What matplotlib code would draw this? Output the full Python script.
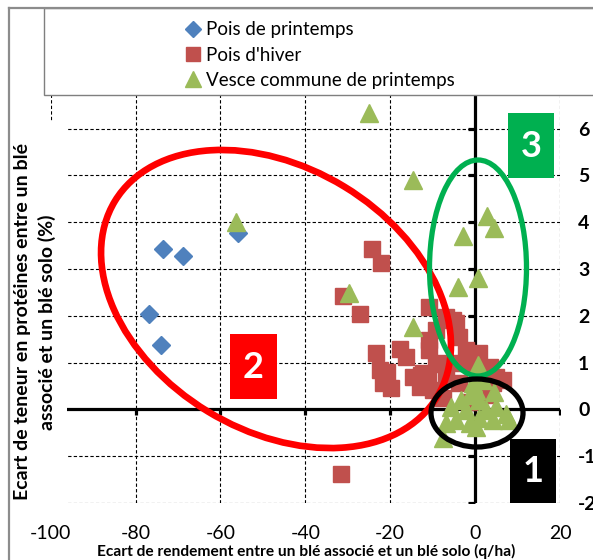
import numpy as np
import matplotlib
matplotlib.use("Agg")
import matplotlib.pyplot as plt
from matplotlib.patches import Ellipse, Rectangle
from matplotlib.lines import Line2D

plt.rcParams["font.family"] = ["Lato", "DejaVu Sans"]
plt.rcParams["axes.unicode_minus"] = False

# Pois de printemps
pp_x = [-73.5, -68.8, -55.8, -76.8, -73.9]
pp_y = [3.43, 3.28, 3.76, 2.03, 1.37]

# Pois d'hiver
ph_x = [-31.7, -24.2, -22.1, -31.2, -27.2, -23.3, -17.8, -16.2, -20.7, -19.8,
        -12.7, -9.2, -6.8, -4.5, -3.7, -2.1, 1.0, 3.4, 4.9, 0.2,
        -10.8, -12.3, -14.7, -22.5, -21.7, -10.0, -6.8, -3.7, -10.8, -9.2,
        4.1, -13.1, 6.5, 3.4, -10.8, -5.3, -8.4, -3.7, -11.2, -7.5, -1.5, 2.5]
ph_y = [-1.38, 3.42, 3.13, 2.42, 2.03, 1.21, 1.30, 1.12, 0.80, 0.45,
        0.73, 1.69, 1.98, 1.84, 1.55, 1.27, 1.20, 0.91, 0.70, 0.98,
        1.27, 0.77, 0.70, 0.84, 0.56, 0.41, 0.70, 0.56, 2.19, 0.98,
        0.56, 0.48, 0.63, 0.41, 1.48, 1.90, 0.99, 0.99, 0.69, 0.25, 0.15, 0.30]

# Vesce commune de printemps
vc_x = [-56.4, -24.9, -14.7, 2.7, 4.5, -2.75, 0.6, -4.1, -14.7, -29.6, 0.6, -7.6,
        -5.6, -3.3, -1.3, 0.2, 1.0, 2.6, 4.5, 4.9, 7.3, 8.1, -1.3, -4.5, 1.0,
        -6.8, -2.1, 1.8, -0.6, 0.2, 4.1]
vc_y = [4.01, 6.34, 4.90, 4.13, 3.88, 3.70, 2.80, 2.62, 1.77, 2.48, 0.95, -0.62,
        0.06, 0.20, 0.31, 0.41, 0.20, -0.01, 0.38, 0.06, -0.09, -0.23, -0.30, -0.23, -0.19,
        -0.30, -0.01, 0.63, 0.56, -0.37, -0.23]

x_ticks = [-100, -80, -60, -40, -20, 0, 20]
y_ticks = [-2, -1, 0, 1, 2, 3, 4, 5, 6]

W, H = 593, 560
fig = plt.figure(figsize=(W / 100, H / 100), dpi=100)
ax = fig.add_axes([50.7 / W, 57 / H, 509.3 / W, 421.3 / H])
ax.set_xlim(-100, 20)
ax.set_ylim(-2, 7)
for s in ax.spines.values():
    s.set_visible(False)

dash = (0, (3, 2))
for xv in x_ticks:
    ax.axvline(xv, color="black", lw=0.8, ls=dash, zorder=1)
for yv in y_ticks:
    ax.axhline(yv, color="black", lw=0.8, ls=dash, zorder=1)

ax.axvline(0, color="black", lw=2.3, zorder=2)
ax.axhline(0, color="black", lw=2.3, zorder=2)
ax.plot(np.zeros(len(y_ticks)), y_ticks, ls="none", marker=0, ms=5, mew=2.3, color="black", zorder=2)
ax.plot(x_ticks, np.zeros(len(x_ticks)), ls="none", marker=3, ms=4, mew=2.3, color="black", zorder=2)

ax.plot(pp_x, pp_y, ls="none", marker="D", ms=8.7, color="#4F81BD", mec="#4F81BD", zorder=3)
ax.plot(ph_x, ph_y, ls="none", marker="s", ms=12, color="#C0504D", mec="#C0504D", zorder=4)
ax.plot(vc_x, vc_y, ls="none", marker="^", ms=12.5, color="#9BBB59", mec="#9BBB59", zorder=5)

ax.set_xticks(x_ticks)
ax.set_yticks(y_ticks)
ax.yaxis.tick_right()
ax.tick_params(axis="both", length=0)
ax.tick_params(axis="x", pad=16, labelsize=14)
ax.tick_params(axis="y", pad=13, labelsize=14)
for t in ax.get_yticklabels():
    t.set_fontweight("bold")

# overlay in pixel coordinates for shapes, boxes and titles
ov = fig.add_axes([0, 0, 1, 1], zorder=10)
ov.set_xlim(0, W)
ov.set_ylim(H, 0)
ov.axis("off")

ov.add_patch(Rectangle((9, 122), 58, 400, facecolor="white", edgecolor="none"))
ov.plot([9, 9], [8, H], color="#8C8C8C", lw=1.6)
ov.plot([9, W], [8, 8], color="#8C8C8C", lw=1.6)
ov.add_patch(Rectangle((44, 8), 560, 87, facecolor="white", edgecolor="#7F7F7F", lw=1.0))

ov.add_patch(Ellipse((276, 299), 377, 263, angle=31.3, fill=False, ec="#FF0000", lw=4.8))
ov.add_patch(Ellipse((478, 268), 97, 216, fill=False, ec="#00B050", lw=3.8))
ov.add_patch(Ellipse((477, 413), 92, 68, fill=False, ec="black", lw=3.8))

boxes = [((230, 334), 47, 65, "#FF0000", "2"),
         ((508, 113), 46, 65, "#00B050", "3"),
         ((510, 439), 46, 64, "black", "1")]
for (bx, by), bw, bh, col, lab in boxes:
    ov.add_patch(Rectangle((bx, by), bw, bh, facecolor=col, edgecolor="none"))
    ov.text(bx + bw / 2, by + bh / 2 + 1, lab, color="white", fontsize=26,
            fontweight="bold", ha="center", va="center")

ov.text(23, 322, "Ecart de teneur en protéines entre un blé", rotation=90,
        fontsize=14, fontweight="bold", ha="center", va="center")
ov.text(47, 322, "associé et un blé solo (%)", rotation=90,
        fontsize=14, fontweight="bold", ha="center", va="center")
ov.text(306, 551, "Ecart de rendement entre un blé associé et un blé solo (q/ha)",
        fontsize=11.2, fontweight="bold", ha="center", va="center")

handles = [
    Line2D([], [], ls="none", marker="D", ms=8, color="#4F81BD"),
    Line2D([], [], ls="none", marker="s", ms=10, color="#C0504D"),
    Line2D([], [], ls="none", marker="^", ms=11, color="#9BBB59"),
]
labels = ["Pois de printemps", "Pois d'hiver", "Vesce commune de printemps"]
ov.legend(handles, labels, loc="upper left", bbox_to_anchor=(172 / W, 1 - 8 / H),
          frameon=False, fontsize=13.5, handlelength=0.8, handletextpad=0.3,
          labelspacing=0.45, borderpad=0.2)

fig.savefig("out.png", dpi=100)
